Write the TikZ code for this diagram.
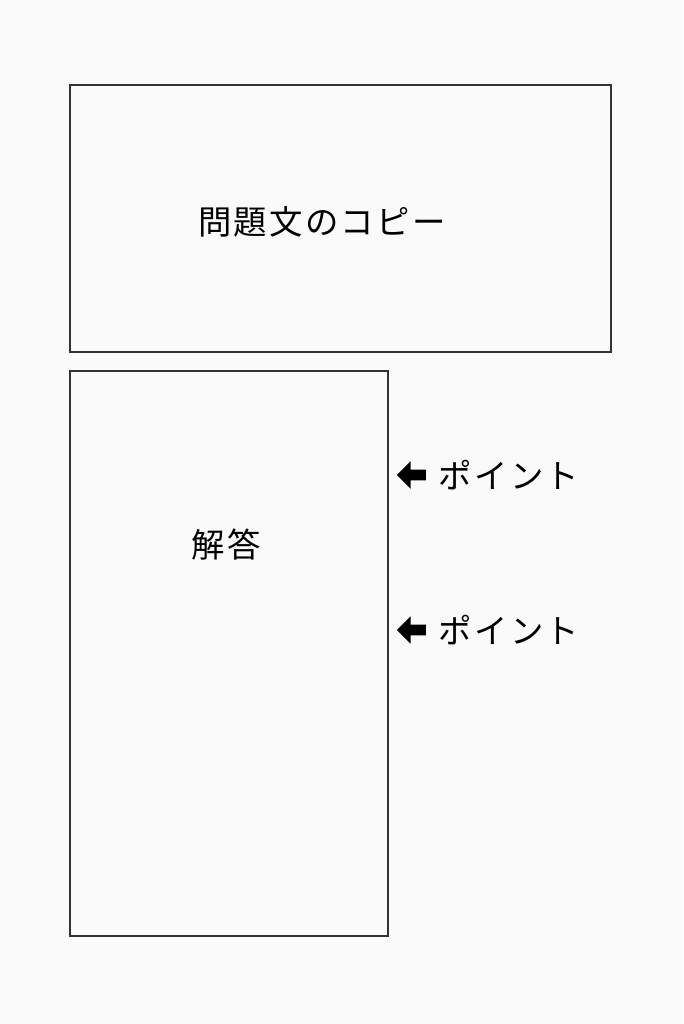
\documentclass[tikz,border=0pt]{standalone}
\usepackage{fontspec}
\newfontfamily\jpfont[LetterSpace=7]{Noto Sans CJK JP}
\usetikzlibrary{shapes.arrows, positioning}
\definecolor{paper}{HTML}{FAFAFA}
\definecolor{ink}{HTML}{333333}

\begin{document}
\begin{tikzpicture}[x=0.02cm, y=-0.02cm,
    box/.style={draw=ink, line width=0.9pt},
    jptext/.style={font=\jpfont\fontsize{19}{21}\selectfont, text=black, inner sep=0pt},
    pointer/.style={single arrow, fill=black, shape border rotate=180, inner sep=0.1cm,
        minimum height=0.58cm, minimum width=0.54cm, single arrow head extend=0.17cm}]
    \fill[paper] (0,0) rectangle (683,1024);
    % boxes
    \draw[box] (70,85) rectangle (611,352);
    \draw[box] (70,371) rectangle (388,936);
    \node[jptext] (question) at (322,222) {問題文のコピー};
    \node[jptext] (answer) at (226,545) {解答};
    % points
    \foreach \y/\n in {475/a,630/b} {
        \node[pointer] (arrow\n) at (414,\y) {};
        \node[jptext, right=7pt of arrow\n] (point\n) {ポイント};
    }
\end{tikzpicture}
\end{document}
